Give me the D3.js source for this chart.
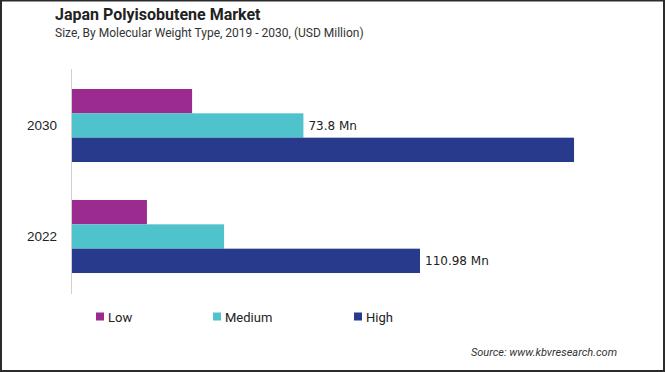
<!DOCTYPE html>
<html>
<head>
  <meta charset="utf-8">
  <title>Japan Polyisobutene Market</title>
  <style>
    html, body { margin: 0; padding: 0; background: #fff; }
    svg { display: block; }
  </style>
</head>
<body>
<div id="chart"></div>
<script src="https://cdn.jsdelivr.net/npm/d3@7"></script>
<script>
// chart data
const years = ["2030", "2022"];
const seriesNames = ["Low", "Medium", "High"];
const seriesColors = ["#9b2b8f", "#4fc3cc", "#283a8c"];
const lowValues = [38.3, 23.9];
const mediumValues = [73.8, 48.5];
const highValues = [160.1, 110.98];
const valueLabels = ["73.8 Mn", "110.98 Mn"]; // 2030 medium, 2022 high

const width = 665, height = 372;

const svg = d3.select("#chart")
  .append("svg")
  .attr("width", width)
  .attr("height", height);

// frame
svg.append("rect")
  .attr("x", 1).attr("y", 0.5)
  .attr("width", width - 2).attr("height", height - 1.5)
  .attr("fill", "#fff")
  .attr("stroke", "#2b2b2b")
  .attr("stroke-width", 2);

// titles
svg.append("text")
  .attr("x", 55).attr("y", 20)
  .style("font-family", "Roboto, sans-serif")
  .style("font-weight", "bold")
  .style("font-size", "16px")
  .attr("fill", "#222")
  .text("Japan Polyisobutene Market");
svg.append("text")
  .attr("x", 55).attr("y", 37)
  .style("font-family", "Roboto, sans-serif")
  .style("font-size", "12px")
  .attr("fill", "#333")
  .text("Size, By Molecular Weight Type, 2019 - 2030, (USD Million)");

//******* scales *******
const y = d3.scaleBand()
  .domain(years)
  .range([69, 293])
  .paddingInner(0.342)
  .paddingOuter(0.18);
const ySeries = d3.scaleBand()
  .domain(seriesNames)
  .range([0, y.bandwidth()]);
const x = d3.scaleLinear()
  .domain([0, 180])
  .range([72, 72 + 180 * 3.1357]);
const color = d3.scaleOrdinal().domain(seriesNames).range(seriesColors);

// build rows for drawing
const rows = [];
years.forEach(function(yr, i) {
  rows.push({year: yr, series: "Low", value: lowValues[i]});
  rows.push({year: yr, series: "Medium", value: mediumValues[i]});
  rows.push({year: yr, series: "High", value: highValues[i]});
});

svg.selectAll(".bar")
  .data(rows)
  .enter()
  .append("rect")
  .attr("class", "bar")
  .attr("x", x(0))
  .attr("y", function(d) { return y(d.year) + ySeries(d.series); })
  .attr("width", function(d) { return x(d.value) - x(0); })
  .attr("height", ySeries.bandwidth())
  .attr("fill", function(d) { return color(d.series); });

// vertical axis line + year labels
svg.append("line")
  .attr("x1", x(0) - 0.5).attr("x2", x(0) - 0.5)
  .attr("y1", 69).attr("y2", 294)
  .attr("stroke", "#d0d0d0")
  .attr("stroke-width", 1);

svg.selectAll(".yearLabel")
  .data(years)
  .enter()
  .append("text")
  .attr("class", "yearLabel")
  .attr("x", 57)
  .attr("y", function(d) { return y(d) + y.bandwidth() / 2; })
  .attr("dy", "0.35em")
  .attr("text-anchor", "end")
  .style("font-family", "'Liberation Sans', Arial, sans-serif")
  .style("font-size", "13.5px")
  .attr("fill", "#222")
  .text(function(d) { return d; });

// value labels
const labelled = [
  {year: "2030", series: "Medium", value: mediumValues[0], text: valueLabels[0]},
  {year: "2022", series: "High", value: highValues[1], text: valueLabels[1]}
];
svg.selectAll(".valLabel")
  .data(labelled)
  .enter()
  .append("text")
  .attr("class", "valLabel")
  .attr("x", function(d) { return x(d.value) + 5; })
  .attr("y", function(d) { return y(d.year) + ySeries(d.series) + ySeries.bandwidth() / 2; })
  .attr("dy", "0.35em")
  .style("font-family", "'DejaVu Sans', Verdana, sans-serif")
  .style("font-size", "12px")
  .attr("fill", "#222")
  .text(function(d) { return d.text; });

//******* legend *******
const legendX = [96, 213, 354];
const legend = svg.selectAll(".legendItem")
  .data(seriesNames)
  .enter()
  .append("g")
  .attr("class", "legendItem")
  .attr("transform", function(d, i) { return `translate(${legendX[i]}, 312.5)`; });
legend.append("rect")
  .attr("width", 8).attr("height", 8)
  .attr("fill", function(d) { return color(d); });
legend.append("text")
  .attr("x", 12).attr("y", 4.5)
  .attr("dy", "0.35em")
  .style("font-family", "Roboto, sans-serif")
  .style("font-size", "13px")
  .attr("fill", "#222")
  .text(function(d) { return d; });

// source
svg.append("text")
  .attr("x", 617).attr("y", 356)
  .attr("text-anchor", "end")
  .style("font-family", "Roboto, sans-serif")
  .style("font-style", "italic")
  .style("font-size", "11px")
  .attr("fill", "#333")
  .text("Source: www.kbvresearch.com");
</script>
</body>
</html>
